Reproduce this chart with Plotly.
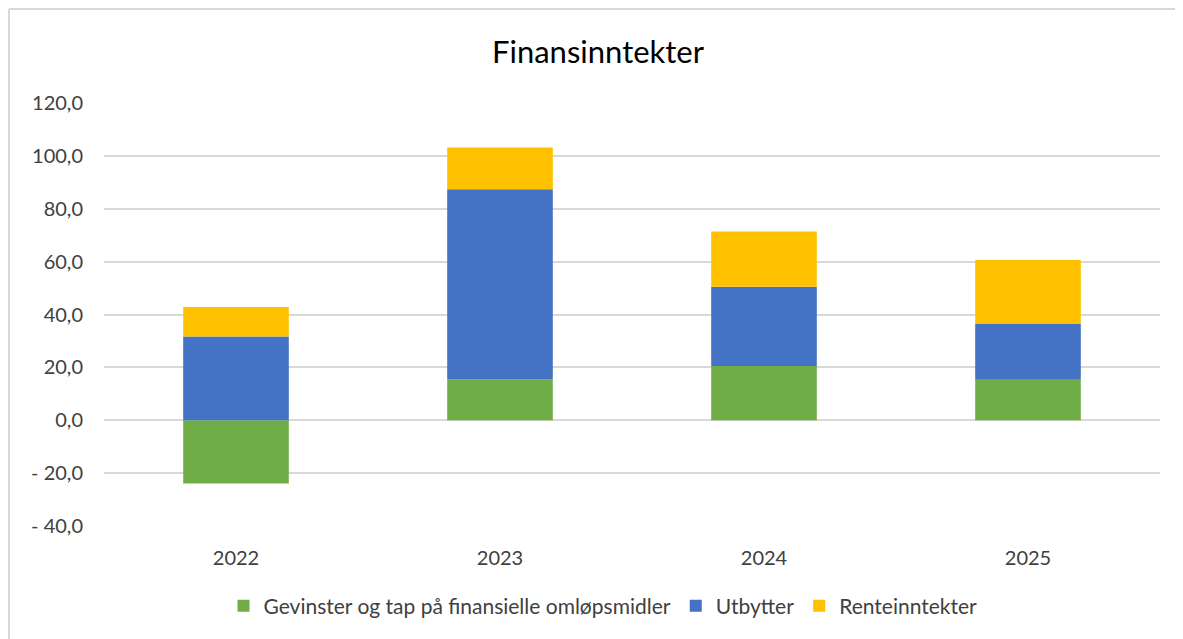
import plotly.graph_objects as go

years = ["2022", "2023", "2024", "2025"]
gevinster = [-23.9, 15.4, 20.5, 15.3]
utbytter = [31.7, 72.0, 30.0, 21.1]
renter = [11.1, 15.8, 20.9, 24.2]

series_names = ["Gevinster og tap på finansielle omløpsmidler", "Utbytter", "Renteinntekter"]
colors = ["#70AD47", "#4472C4", "#FFC000"]

tick_vals = [-40, -20, 0, 20, 40, 60, 80, 100, 120]
tick_text = ["- 40,0", "- 20,0", "0,0", "20,0", "40,0", "60,0", "80,0", "100,0", "120,0"]

FONT = "Lato, Open Sans, sans-serif"
TXT = "#404040"

fig = go.Figure()
for name, vals, c in zip(series_names, [gevinster, utbytter, renter], colors):
    fig.add_trace(go.Bar(x=years, y=vals, name=name, marker=dict(color=c, line=dict(width=0)), width=0.4))

OFF = 8  # page body offset
W, H = 1183 - OFF, 639 - OFF
PL, PR, PT, PB = 104, 1160, 103, 526
L, T = PL - OFF, PT - OFF
R = W - (PR - OFF)
B = H - (PB - OFF)
pw, ph = PR - PL, PB - PT

def px2x(px):
    return (px - PL) / pw

def py2y(py):
    return (PB - py) / ph

border = dict(color="#D9D9D9", width=2)

fig.update_layout(
    width=W, height=H,
    barmode="relative",
    plot_bgcolor="white", paper_bgcolor="white",
    margin=dict(l=L, r=R, t=T, b=B),
    title=dict(text="Finansinntekter", x=(598 - OFF) / W, xanchor="center",
               y=1 - (52 - OFF) / H, yanchor="middle",
               font=dict(family=FONT, size=31, color="#000000")),
    font=dict(family=FONT, size=20, color=TXT),
    xaxis=dict(showgrid=False, showline=False, ticks="", ticklabelstandoff=18,
               tickfont=dict(size=20, color=TXT)),
    yaxis=dict(range=[-40, 120], tickvals=tick_vals, ticktext=tick_text, showgrid=True,
               gridcolor="#D9D9D9", gridwidth=1.5, zeroline=False, showline=False, ticks="",
               ticklabelstandoff=20,
               tickfont=dict(size=20, color=TXT)),
    legend=dict(orientation="h", x=px2x(603), xanchor="center", y=py2y(606), yanchor="middle",
                font=dict(size=21, color=TXT), traceorder="normal", itemwidth=30),
    shapes=[
        dict(type="line", xref="paper", yref="paper", x0=px2x(9), x1=px2x(1183),
             y0=py2y(9), y1=py2y(9), line=border, layer="below"),
        dict(type="line", xref="paper", yref="paper", x0=px2x(9), x1=px2x(9),
             y0=py2y(9), y1=py2y(639), line=border, layer="below"),
    ],
)

fig.write_html("out.html")
